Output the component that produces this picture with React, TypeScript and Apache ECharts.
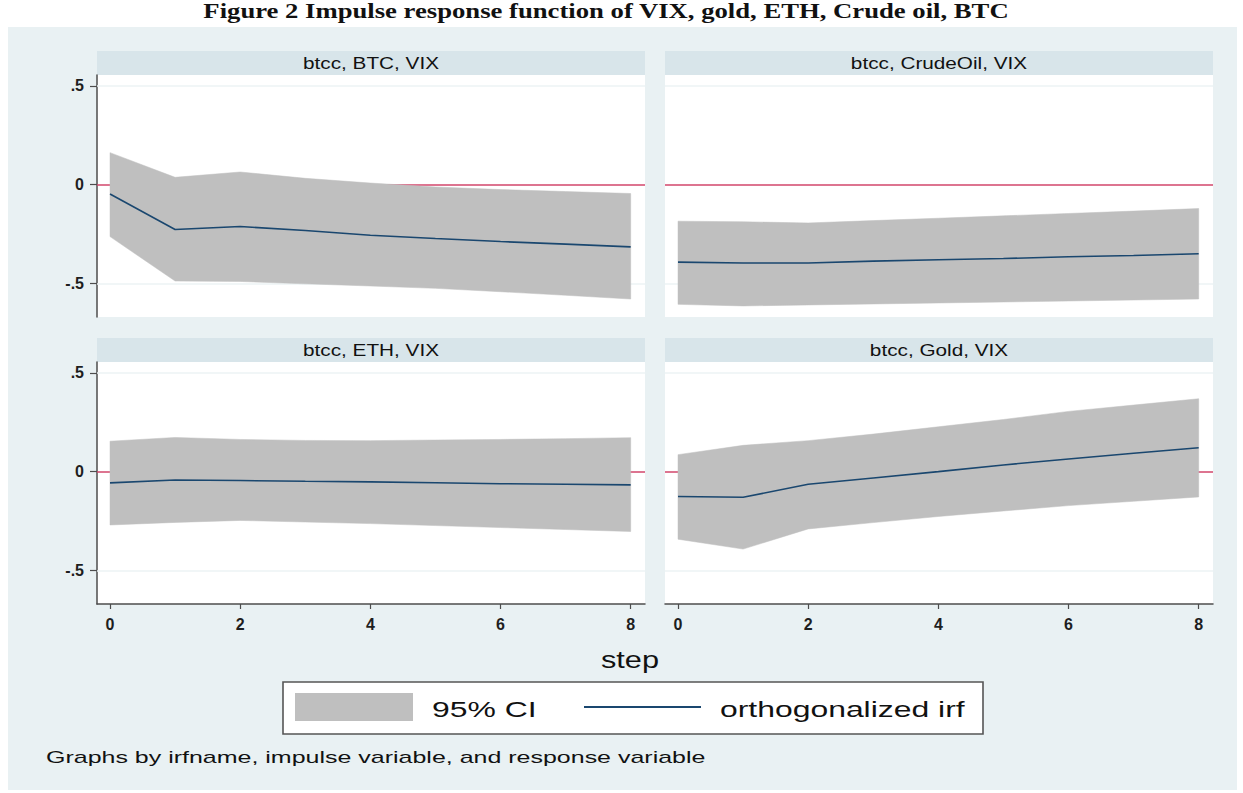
import React, { useEffect, useRef } from 'react';
import * as echarts from 'echarts';

// ---------------- data ----------------
const STEPS = [0, 1, 2, 3, 4, 5, 6, 7, 8];
const PANEL_TITLES = ['btcc, BTC, VIX', 'btcc, CrudeOil, VIX', 'btcc, ETH, VIX', 'btcc, Gold, VIX'];

const BTC_IRF = [-0.047, -0.227, -0.212, -0.232, -0.256, -0.273, -0.288, -0.301, -0.315];
const BTC_HI = [0.162, 0.037, 0.064, 0.032, 0.008, -0.012, -0.025, -0.035, -0.045];
const BTC_LO = [-0.263, -0.488, -0.49, -0.502, -0.513, -0.525, -0.542, -0.56, -0.579];

const OIL_IRF = [-0.392, -0.397, -0.397, -0.387, -0.38, -0.374, -0.365, -0.359, -0.35];
const OIL_HI = [-0.185, -0.188, -0.194, -0.182, -0.17, -0.158, -0.146, -0.134, -0.121];
const OIL_LO = [-0.606, -0.614, -0.609, -0.604, -0.599, -0.594, -0.589, -0.584, -0.579];

const ETH_IRF = [-0.057, -0.042, -0.045, -0.049, -0.052, -0.056, -0.061, -0.064, -0.067];
const ETH_HI = [0.154, 0.173, 0.163, 0.158, 0.157, 0.16, 0.163, 0.167, 0.172];
const ETH_LO = [-0.27, -0.257, -0.247, -0.255, -0.263, -0.273, -0.283, -0.293, -0.303];

const GOLD_IRF = [-0.126, -0.13, -0.064, -0.032, 0.0, 0.034, 0.064, 0.093, 0.121];
const GOLD_HI = [0.086, 0.133, 0.157, 0.19, 0.227, 0.264, 0.305, 0.337, 0.369];
const GOLD_LO = [-0.342, -0.392, -0.29, -0.258, -0.227, -0.199, -0.172, -0.15, -0.128];

const X_TICKS = [0, 2, 4, 6, 8];
const Y_TICKS = [-0.5, 0, 0.5];
const Y_TICK_LABELS = ['-.5', '0', '.5'];
const GRID_VALUES = [-0.5, 0.5];
const REF_VALUE = 0;
const X_MIN = -0.2;
const X_MAX = 8.22;
const Y_MIN = -0.67;
const Y_MAX = 0.555;

const TITLE = 'Figure 2 Impulse response function of VIX, gold, ETH, Crude oil, BTC';
const X_TITLE = 'step';
const LEGEND_LABELS = ['95% CI', 'orthogonalized irf'];
const NOTE = 'Graphs by irfname, impulse variable, and response variable';

const PANELS = [
  { irf: BTC_IRF, hi: BTC_HI, lo: BTC_LO },
  { irf: OIL_IRF, hi: OIL_HI, lo: OIL_LO },
  { irf: ETH_IRF, hi: ETH_HI, lo: ETH_LO },
  { irf: GOLD_IRF, hi: GOLD_HI, lo: GOLD_LO },
];

// ---------------- layout / style ----------------
const SANS = '"Liberation Sans", Arial, Helvetica, sans-serif';
const SERIF = '"Liberation Serif", "Times New Roman", serif';
const BG = '#e9f1f3';
const HEADER = '#d8e5ea';
const BAND = '#bfbfbf';
const IRF_COLOR = '#1a476f';
const REF_COLOR = '#d2466b';
const AXIS_COLOR = '#4d4d4d';
const GRID_W = 548;
const GRID_H = 242;
const GRID_POS = [
  { left: 97, top: 75 },
  { left: 665, top: 75 },
  { left: 97, top: 362 },
  { left: 665, top: 362 },
];

function buildOption() {
  const grid = GRID_POS.map((g) => ({
    left: g.left,
    top: g.top,
    width: GRID_W,
    height: GRID_H,
    show: true,
    backgroundColor: '#ffffff',
    borderWidth: 0,
    containLabel: false,
    outerBoundsMode: 'none',
  }));

  const xAxis = GRID_POS.map((_, i) => {
    const showAxis = i >= 2;
    return {
      type: 'value',
      gridIndex: i,
      min: X_MIN,
      max: X_MAX,
      splitLine: { show: false },
      axisLine: { show: showAxis, onZero: false, lineStyle: { color: AXIS_COLOR, width: 1.5 } },
      axisTick: {
        show: showAxis,
        customValues: X_TICKS,
        length: 5,
        inside: false,
        lineStyle: { color: AXIS_COLOR, width: 1.2 },
      },
      axisLabel: {
        show: showAxis,
        customValues: X_TICKS,
        margin: 12,
        color: '#1e1e1e',
        fontFamily: SANS,
        fontSize: 16,
        fontWeight: 'bold',
      },
    };
  });

  const yAxis = GRID_POS.map((_, i) => {
    const showAxis = i % 2 === 0;
    return {
      type: 'value',
      gridIndex: i,
      min: Y_MIN,
      max: Y_MAX,
      splitLine: { show: false },
      axisLine: { show: showAxis, onZero: false, lineStyle: { color: AXIS_COLOR, width: 1.5 } },
      axisTick: {
        show: showAxis,
        customValues: Y_TICKS,
        length: 7,
        inside: false,
        lineStyle: { color: AXIS_COLOR, width: 1.2 },
      },
      axisLabel: {
        show: showAxis,
        customValues: Y_TICKS,
        margin: 13,
        color: '#1e1e1e',
        fontFamily: SANS,
        fontSize: 16,
        fontWeight: 'bold',
        formatter: (v: number) => {
          const k = Y_TICKS.findIndex((t) => Math.abs(t - v) < 1e-9);
          return k >= 0 ? Y_TICK_LABELS[k] : '';
        },
      },
    };
  });

  const series: any[] = [];
  PANELS.forEach((p, i) => {
    series.push({
      name: LEGEND_LABELS[0],
      type: 'custom',
      xAxisIndex: i,
      yAxisIndex: i,
      silent: true,
      z: 2,
      data: STEPS.map((s, k) => [s, p.lo[k], p.hi[k]]),
      encode: { x: 0, y: [1, 2] },
      renderItem: (params: any, api: any) => {
        if (params.dataIndex !== 0) return null;
        const top = STEPS.map((s, k) => api.coord([s, p.hi[k]]));
        const bottom = STEPS.map((s, k) => api.coord([s, p.lo[k]])).reverse();
        return {
          type: 'polygon',
          shape: { points: top.concat(bottom) },
          style: { fill: BAND, stroke: BAND, lineWidth: 0.5 },
        };
      },
      markLine: {
        silent: true,
        symbol: ['none', 'none'],
        z: 1,
        label: { show: false },
        emphasis: { disabled: true },
        data: [
          ...GRID_VALUES.map((v) => ({ yAxis: v, lineStyle: { color: '#edf3f5', width: 1.5, type: 'solid' } })),
          { yAxis: REF_VALUE, lineStyle: { color: REF_COLOR, width: 1.6, type: 'solid' } },
        ],
      },
    });
    series.push({
      name: LEGEND_LABELS[1],
      type: 'line',
      xAxisIndex: i,
      yAxisIndex: i,
      data: STEPS.map((s, k) => [s, p.irf[k]]),
      symbol: 'none',
      silent: true,
      lineStyle: { color: IRF_COLOR, width: 1.6 },
      z: 3,
    });
  });

  const textStyle = (text: string, size: number, align: string, family = SANS, weight = 'normal') => ({
    text,
    x: 0,
    y: 0,
    fontFamily: family,
    fontSize: size,
    fontWeight: weight,
    fill: '#111111',
    align,
    verticalAlign: 'middle',
    textAlign: align,
    textVerticalAlign: 'middle',
  });

  const graphic: any[] = [
    { type: 'rect', z: -10, silent: true, shape: { x: 8, y: 27, width: 1229, height: 763 }, style: { fill: BG } },
    { type: 'text', z: 10, silent: true, x: 606, y: 11, scaleX: 1.27, style: textStyle(TITLE, 21, 'center', SERIF, 'bold') },
  ];
  GRID_POS.forEach((g, i) => {
    graphic.push({
      type: 'rect',
      z: -5,
      silent: true,
      shape: { x: g.left, y: g.top - 24, width: GRID_W, height: 24 },
      style: { fill: HEADER },
    });
    graphic.push({
      type: 'text',
      z: 10,
      silent: true,
      x: g.left + GRID_W / 2,
      y: g.top - 12,
      scaleX: 1.22,
      style: textStyle(PANEL_TITLES[i], 17, 'center'),
    });
  });
  // x-axis title
  graphic.push({ type: 'text', z: 10, silent: true, x: 630, y: 660, scaleX: 1.28, style: textStyle(X_TITLE, 24, 'center') });
  // legend
  graphic.push({
    type: 'rect',
    z: 5,
    silent: true,
    shape: { x: 283, y: 682, width: 700, height: 52 },
    style: { fill: '#ffffff', stroke: '#555555', lineWidth: 1.6 },
  });
  graphic.push({ type: 'rect', z: 6, silent: true, shape: { x: 295, y: 693, width: 118, height: 28 }, style: { fill: BAND } });
  graphic.push({ type: 'text', z: 10, silent: true, x: 432, y: 709, scaleX: 1.45, style: textStyle(LEGEND_LABELS[0], 22, 'left') });
  graphic.push({
    type: 'line',
    z: 6,
    silent: true,
    shape: { x1: 584, y1: 707, x2: 701, y2: 707 },
    style: { stroke: IRF_COLOR, lineWidth: 2.2 },
  });
  graphic.push({ type: 'text', z: 10, silent: true, x: 720, y: 709, scaleX: 1.45, style: textStyle(LEGEND_LABELS[1], 22, 'left') });
  // note
  graphic.push({ type: 'text', z: 10, silent: true, x: 46, y: 757, scaleX: 1.47, style: textStyle(NOTE, 17, 'left') });

  return {
    animation: false,
    backgroundColor: '#ffffff',
    grid,
    xAxis,
    yAxis,
    series,
    graphic,
  };
}

export default function App() {
  const ref = useRef<HTMLDivElement>(null);
  useEffect(() => {
    const chart = echarts.init(ref.current!, null, { renderer: 'svg' });
    chart.setOption(buildOption() as any);
    return () => chart.dispose();
  }, []);
  return <div ref={ref} style={{ position: 'absolute', left: 0, top: 0, width: 1243, height: 793 }} />;
}
